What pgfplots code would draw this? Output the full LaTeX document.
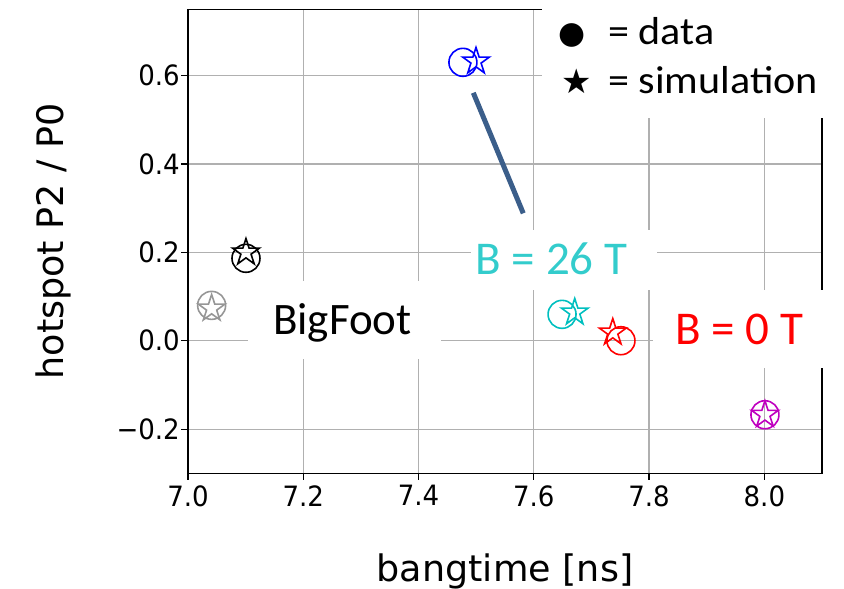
\documentclass[border=0pt]{standalone}
\usepackage{fontspec}
\usepackage{pgfplots}
\pgfplotsset{compat=1.18}
\setmainfont{DejaVu Sans}
\newfontfamily\tickfont{DejaVu Sans}[FakeStretch=0.93]
\newfontfamily\calib{Carlito}
\newfontfamily\calibleg{Carlito}[FakeStretch=1.08]
\newfontfamily\symfont{DejaVu Sans}

\definecolor{gridgray}{RGB}{176,176,176}
\definecolor{cgray}{RGB}{150,150,150}
\definecolor{ccyan}{RGB}{0,191,191}
\definecolor{cmag}{RGB}{191,0,191}
\definecolor{ctext}{RGB}{51,204,204}
\definecolor{lineblue}{RGB}{59,94,138}

\pgfdeclareplotmark{ostar}{%
  \pgfpathmoveto{\pgfpointpolar{90}{\pgfplotmarksize}}%
  \pgfpathlineto{\pgfpointpolar{126}{0.382*\pgfplotmarksize}}%
  \pgfpathlineto{\pgfpointpolar{162}{\pgfplotmarksize}}%
  \pgfpathlineto{\pgfpointpolar{198}{0.382*\pgfplotmarksize}}%
  \pgfpathlineto{\pgfpointpolar{234}{\pgfplotmarksize}}%
  \pgfpathlineto{\pgfpointpolar{270}{0.382*\pgfplotmarksize}}%
  \pgfpathlineto{\pgfpointpolar{306}{\pgfplotmarksize}}%
  \pgfpathlineto{\pgfpointpolar{342}{0.382*\pgfplotmarksize}}%
  \pgfpathlineto{\pgfpointpolar{18}{\pgfplotmarksize}}%
  \pgfpathlineto{\pgfpointpolar{54}{0.382*\pgfplotmarksize}}%
  \pgfpathclose
  \pgfusepathqstroke
}

\pgfplotsset{
  dm/.style={only marks, mark=o, mark size=14pt, mark options={draw=#1, line width=1.6pt, solid}},
  sm/.style={only marks, mark=ostar, mark size=14pt, mark options={draw=#1, line width=1.6pt, solid, line join=miter}},
}

\begin{document}
\begin{tikzpicture}[x=1pt,y=1pt]
\path[use as bounding box] (0,0) rectangle (844,589);
\begin{axis}[
  at={(188pt,115.7pt)}, anchor=south west,
  scale only axis, width=634pt, height=464pt,
  xmin=7, xmax=8.1, ymin=-0.3, ymax=0.75,
  xtick={7,7.2,7.4,7.6,7.8,8.0}, xticklabels={7.0,7.2,7.4,7.6,7.8,8.0},
  ytick={-0.2,0,0.2,0.4,0.6}, yticklabels={−0.2,0.0,0.2,0.4,0.6},
  xtick pos=left, ytick pos=left,
  tick align=outside, major tick length=6.5pt,
  every tick/.style={black, line width=1.2pt},
  grid=major, major grid style={color=gridgray, line width=1.2pt},
  axis line style={black, line width=1.3pt},
  every tick label/.append style={font=\tickfont\fontsize{28}{30}\selectfont, inner sep=0pt},
  xticklabel style={yshift=-5.5pt},
  yticklabel style={xshift=-1.5pt},
  xlabel={bangtime [ns]}, ylabel={hotspot P2 / P0},
  label style={font=\fontsize{36.5}{40}\selectfont, inner sep=0pt},
  xlabel style={at={(axis description cs:0.5,-0.2336)}, anchor=base},
  ylabel style={at={(axis description cs:-0.1967,0.5)}, anchor=base},
]
% annotation line
\addplot[color=lineblue, line width=5pt, no marks] coordinates {(7.495,0.561) (7.5817,0.2883)};
% gray
\addplot[dm=cgray] coordinates {(7.041,0.080)};
\addplot[sm=cgray] coordinates {(7.041,0.073)};
% black
\addplot[dm=black] coordinates {(7.1006,0.1865)};
\addplot[sm=black] coordinates {(7.1006,0.1996)};
% blue
\addplot[dm=blue] coordinates {(7.477,0.630)};
\addplot[sm=blue] coordinates {(7.4997,0.632)};
% cyan
\addplot[dm=ccyan] coordinates {(7.649,0.0597)};
\addplot[sm=ccyan] coordinates {(7.671,0.064)};
% red
\addplot[dm=red] coordinates {(7.7512,0.0)};
\addplot[sm=red] coordinates {(7.737,0.0186)};
% magenta
\addplot[dm=cmag] coordinates {(8.001,-0.1675)};
\addplot[sm=cmag] coordinates {(8.001,-0.1675)};
\end{axis}
% white label boxes
\fill[white] (542,471) rectangle (844,589);
\fill[white] (248,230) rectangle (441,308);
\fill[white] (471,299) rectangle (657,359);
\fill[white] (653,221) rectangle (844,299);
% annotation texts
\node[anchor=base, inner sep=0pt, font=\calib\fontsize{45}{50}\selectfont] at (342.5,254) {BigFoot};
\node[anchor=base, inner sep=0pt, text=ctext, font=\calib\fontsize{47}{50}\selectfont] at (551.5,314) {B = 26 T};
\node[anchor=base, inner sep=0pt, text=red, font=\calib\fontsize{47}{50}\selectfont] at (739.5,244) {B = 0 T};
% legend
\node[inner sep=0pt, font=\symfont\fontsize{31}{36}\selectfont] at (571.7,554) {●};
\node[inner sep=0pt, font=\symfont\fontsize{34}{36}\selectfont] at (576.5,508) {★};
\node[anchor=base west, inner sep=0pt, font=\calibleg\fontsize{39}{42}\selectfont] at (608,544) {= data};
\node[anchor=base west, inner sep=0pt, font=\calibleg\fontsize{39}{42}\selectfont] at (608,495.7) {= simulation};
\end{tikzpicture}
\end{document}
